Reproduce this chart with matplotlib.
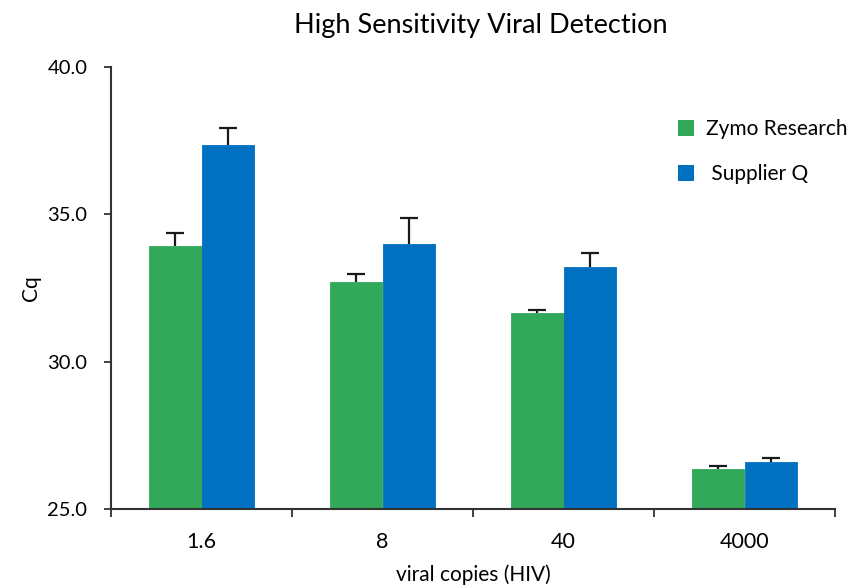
import matplotlib
matplotlib.use("Agg")
import matplotlib.pyplot as plt
import numpy as np
from matplotlib.patches import Patch

plt.rcParams['font.family'] = ['Lato', 'DejaVu Sans']

categories = ["1.6", "8", "40", "4000"]
zymo = [33.92, 32.69, 31.64, 26.38]
zymo_err = [0.44, 0.30, 0.10, 0.08]
supplier = [37.34, 33.98, 33.20, 26.59]
supplier_err = [0.58, 0.88, 0.47, 0.14]
yticks = [25.0, 30.0, 35.0, 40.0]

green = "#31A85A"
blue = "#0070C0"

fig = plt.figure(figsize=(8.49, 5.87), dpi=100)
ax = fig.add_axes([111/849, 1 - 509.3/587, (835 - 111)/849, (509.3 - 66.7)/587])

x = np.arange(len(categories))
w = 0.288
err_kw = dict(ecolor="#1a1a1a", elinewidth=1.6, capsize=6.5, capthick=1.6)


def draw_series(xpos, vals, errs, color):
    cont = ax.bar(xpos, vals, w, color=color, edgecolor=color, linewidth=0.6,
                  yerr=[np.zeros(len(vals)), errs], error_kw=err_kw, zorder=2)
    # keep only the upper cap of each error bar
    _, caps, _ = cont.errorbar.lines
    caps[0].set_visible(False)
    return cont


draw_series(x - w/2, zymo, zymo_err, green)
draw_series(x + w/2, supplier, supplier_err, blue)

ax.set_ylim(25, 40)
ax.set_xlim(-0.5, len(categories) - 0.5)
ax.set_yticks(yticks)
ax.set_yticklabels([f"{v:.1f}" for v in yticks], fontsize=14.5)

# category labels centred, ticks at group boundaries
ax.set_xticks(np.arange(-0.5, len(categories)), minor=False)
ax.set_xticklabels([])
ax.set_xticks(x, minor=True)
ax.set_xticklabels(categories, minor=True, fontsize=15.5)
ax.tick_params(axis="x", which="minor", length=0, pad=16)
ax.tick_params(axis="x", which="major", length=6, width=1.3, color="#333333", direction="out")
ax.tick_params(axis="y", length=5, width=1.3, color="#333333", direction="out", pad=12)

for s in ["top", "right"]:
    ax.spines[s].set_visible(False)
for s in ["left", "bottom"]:
    ax.spines[s].set_color("#333333")
    ax.spines[s].set_linewidth(1.5)

ax.set_ylabel("Cq", fontsize=15)
ax.yaxis.set_label_coords(31/849, 1 - 288/587, transform=fig.transFigure)
ax.set_xlabel("viral copies (HIV)", fontsize=15)
ax.xaxis.set_label_coords(473/849, 1 - 575/587, transform=fig.transFigure)
ax.xaxis.label.set_va("center")
ax.yaxis.label.set_va("center")
fig.text(481/849, 1 - 25/587, "High Sensitivity Viral Detection", fontsize=19.5,
         ha="center", va="center")

handles = [Patch(facecolor=green, edgecolor="none"), Patch(facecolor=blue, edgecolor="none")]
ax.legend(handles, ["Zymo Research", " Supplier Q"], loc="upper left",
          bbox_to_anchor=(670/849, 1 - 111/587), bbox_transform=fig.transFigure,
          frameon=False, fontsize=15, handlelength=0.75, handleheight=0.75,
          handletextpad=0.6, labelspacing=1.2, borderaxespad=0)

fig.savefig("out.png", dpi=100)
